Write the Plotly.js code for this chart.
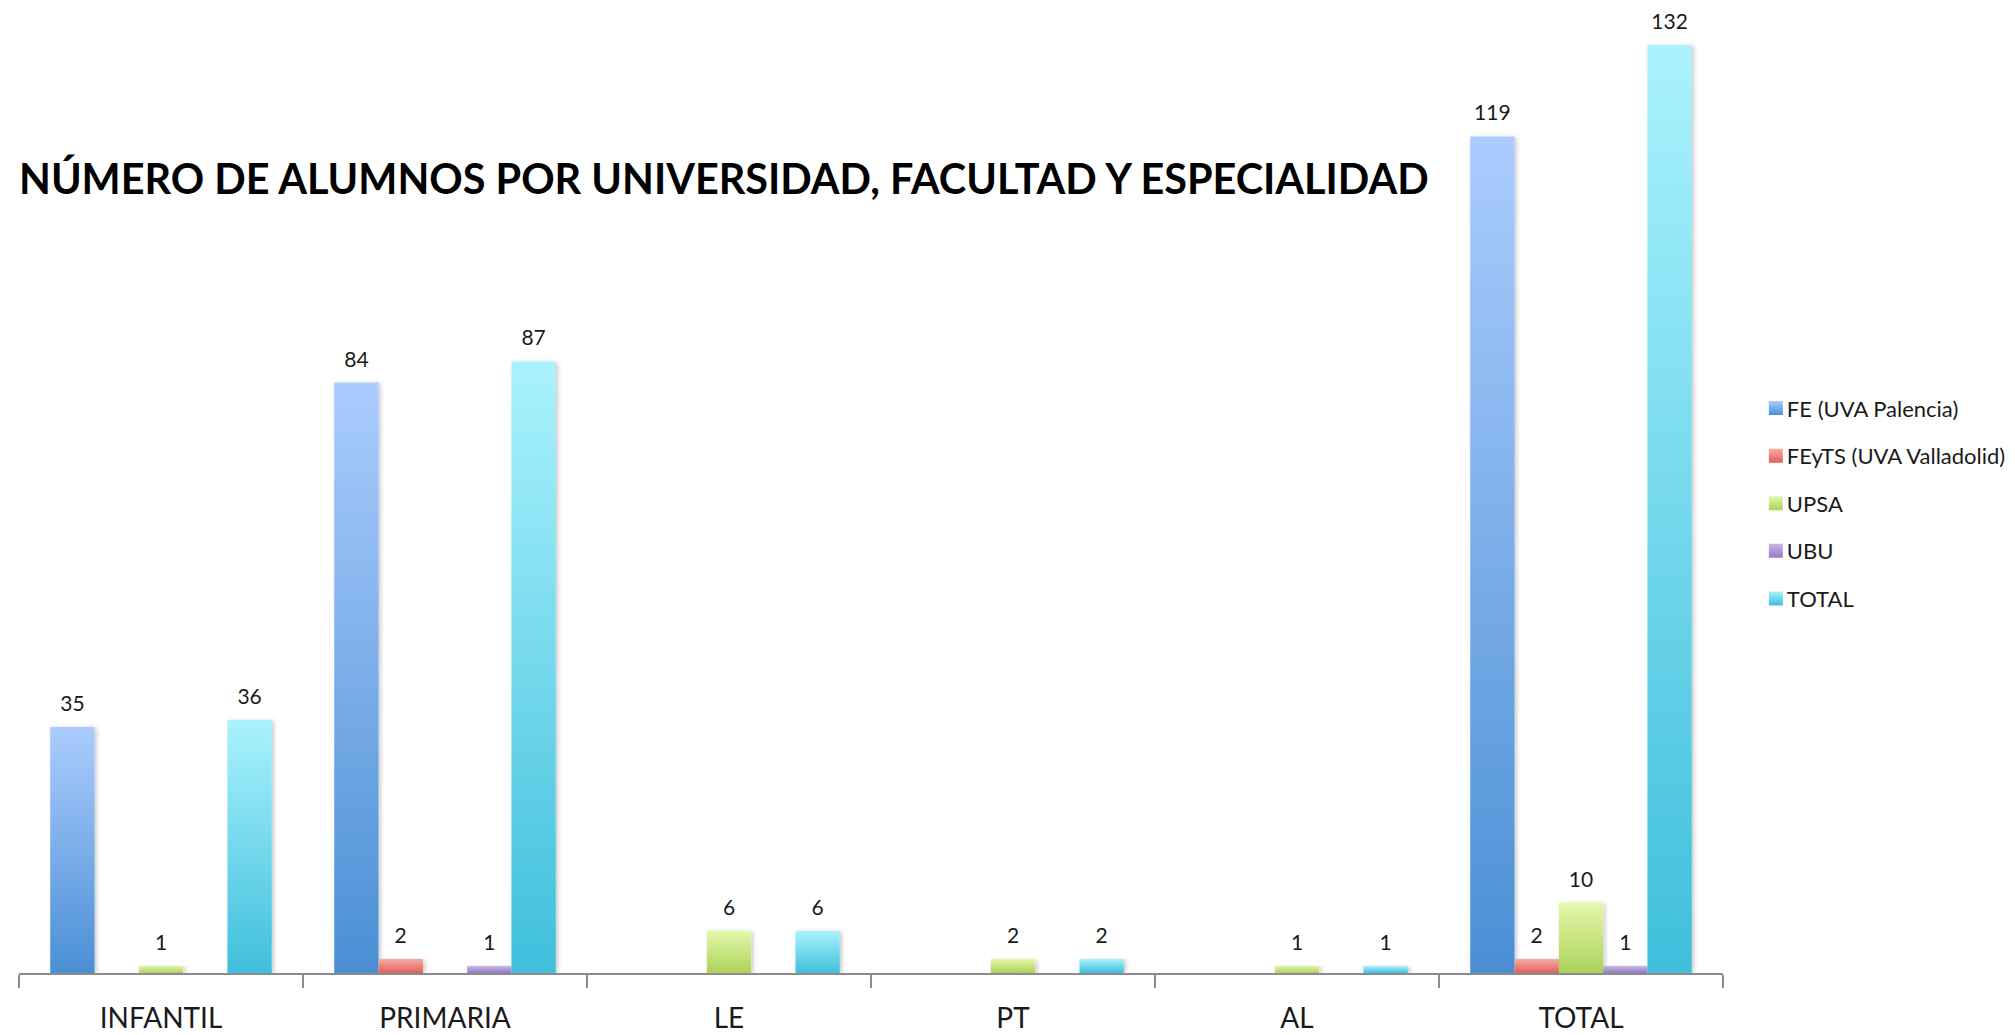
<!DOCTYPE html>
<html><head><meta charset="utf-8">
<script src="https://cdn.plot.ly/plotly-3.0.1.min.js"></script>
<style>html,body{margin:0;padding:0;background:#fff}#chart{width:2015px;height:1035px}</style>
</head><body><div id="chart"></div>
<script>
const categories = ['INFANTIL','PRIMARIA','LE','PT','AL','TOTAL'];
const seriesNames = ['FE (UVA Palencia)','FEyTS (UVA Valladolid)','UPSA','UBU','TOTAL'];
const feValues    = [35, 84, null, null, null, 119];
const feytsValues = [null, 2, null, null, null, 2];
const upsaValues  = [1, null, 6, 2, 1, 10];
const ubuValues   = [null, 1, null, null, null, 1];
const totalValues = [36, 87, 6, 2, 1, 132];
const titleText = 'NÚMERO DE ALUMNOS POR UNIVERSIDAD, FACULTAD Y ESPECIALIDAD';

const seriesValues = [feValues, feytsValues, upsaValues, ubuValues, totalValues];
const midColors = ['#78acea', '#ec837c', '#c8e581', '#ad95d5', '#72d6ec'];
const gradTop = ['#abccfd', '#f9aaa4', '#e3f8ac', '#cbb8e8', '#aaf2fd'];
const gradBottom = ['#4a8fd5', '#e0605a', '#add25a', '#937ac4', '#3fbfdc'];

const traces = seriesValues.map((vals, i) => ({
  type: 'bar',
  name: seriesNames[i],
  x: categories,
  y: vals,
  marker: {color: midColors[i], line: {width: 0}},
  text: vals.map(v => v == null ? '' : String(v)),
  textposition: 'outside',
  cliponaxis: false,
  constraintext: 'none',
  textfont: {family: 'Lato, "Open Sans", sans-serif', size: 21, color: '#1a1a1a'},
  legendgroup: 'g' + i,
  hoverinfo: 'none'
}));

const layout = {
  width: 2015, height: 1035,
  margin: {l: 19, r: 292, t: 24, b: 62, autoexpand: false},
  paper_bgcolor: '#ffffff', plot_bgcolor: '#ffffff',
  barmode: 'group', bargap: 0.22, bargroupgap: 0,
  showlegend: true,
  title: {
    text: titleText,
    font: {family: 'Lato, "DejaVu Sans Condensed", sans-serif', size: 41.4, weight: 700, color: '#000000'},
    xref: 'container', x: 19/2015, xanchor: 'left',
    yref: 'container', y: 1 - 180/1035, yanchor: 'middle'
  },
  xaxis: {
    type: 'category', showline: true, linecolor: '#8c8c8c', linewidth: 2,
    ticks: 'outside', tickson: 'boundaries', ticklen: 13, tickwidth: 1.5, tickcolor: '#8c8c8c',
    tickfont: {family: 'Lato, "Open Sans", sans-serif', size: 28, color: '#1a1a1a'},
    ticklabelstandoff: 19, showgrid: false, zeroline: false
  },
  yaxis: {range: [0, 135], visible: false, showgrid: false, zeroline: false},
  legend: {
    x: 1.014, xanchor: 'left', y: 0.495, yanchor: 'middle',
    font: {family: 'Lato, "Open Sans", sans-serif', size: 22, color: '#1a1a1a'},
    tracegroupgap: 16, bgcolor: 'rgba(0,0,0,0)', traceorder: 'grouped'
  }
};

Plotly.newPlot('chart', traces, layout, {staticPlot: true, displayModeBar: false}).then(gd => {
  const ns = 'http://www.w3.org/2000/svg';
  const svg = gd.querySelector('.main-svg');
  let defs = svg.querySelector('defs');
  if (!defs) { defs = document.createElementNS(ns, 'defs'); svg.insertBefore(defs, svg.firstChild); }
  gradTop.forEach((c, i) => {
    const g = document.createElementNS(ns, 'linearGradient');
    g.setAttribute('id', 'bg' + i);
    g.setAttribute('x1', '0'); g.setAttribute('y1', '0'); g.setAttribute('x2', '0'); g.setAttribute('y2', '1');
    [[0, gradTop[i]], [1, gradBottom[i]]].forEach(([o, col]) => {
      const s = document.createElementNS(ns, 'stop');
      s.setAttribute('offset', o); s.setAttribute('stop-color', col);
      g.appendChild(s);
    });
    defs.appendChild(g);
  });
  const f = document.createElementNS(ns, 'filter');
  f.setAttribute('id', 'bshadow');
  f.setAttribute('x', '-20%'); f.setAttribute('y', '-5%'); f.setAttribute('width', '150%'); f.setAttribute('height', '120%');
  const ds = document.createElementNS(ns, 'feDropShadow');
  ds.setAttribute('dx', '2'); ds.setAttribute('dy', '1'); ds.setAttribute('stdDeviation', '2');
  ds.setAttribute('flood-color', '#000'); ds.setAttribute('flood-opacity', '0.22');
  f.appendChild(ds);
  defs.appendChild(f);

  gd.querySelectorAll('.barlayer .trace').forEach((tr, i) => {
    tr.querySelectorAll('.point path').forEach(p => {
      p.style.fill = 'url(#bg' + i + ')';
      p.setAttribute('filter', 'url(#bshadow)');
    });
    tr.querySelectorAll('text.bartext').forEach(t => {
      t.setAttribute('transform', 'translate(0,-9) ' + (t.getAttribute('transform') || ''));
    });
  });
  gd.querySelectorAll('.legend .traces').forEach((lt, i) => {
    lt.querySelectorAll('.legendpoints path').forEach(p => {
      p.style.fill = 'url(#bg' + i + ')';
      p.setAttribute('d', 'M7,7H-7V-7H7Z');
      p.setAttribute('transform', 'translate(9,0) ' + (p.getAttribute('transform') || ''));
    });
  });
});
</script>
</body></html>
